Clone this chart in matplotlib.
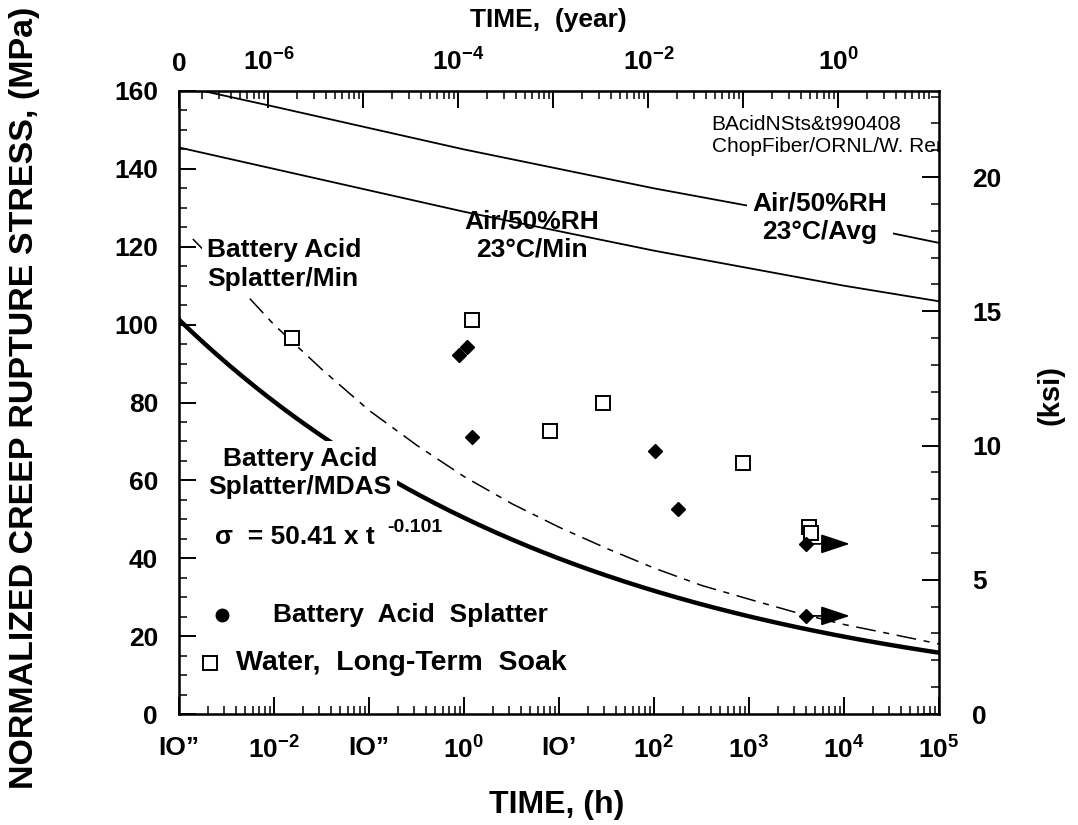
import numpy as np
import matplotlib.pyplot as plt
from matplotlib.ticker import MultipleLocator, LogLocator, NullFormatter, FixedLocator

plt.rcParams['font.family'] = ['Liberation Sans', 'DejaVu Sans']
plt.rcParams['font.weight'] = 'bold'
plt.rcParams['mathtext.fontset'] = 'custom'
plt.rcParams['mathtext.rm'] = 'Liberation Sans:bold'
plt.rcParams['mathtext.bf'] = 'Liberation Sans:bold'
plt.rcParams['mathtext.it'] = 'Liberation Sans:bold'
plt.rcParams['mathtext.default'] = 'rm'

# creep rupture curves: time to rupture (h) vs normalized stress (MPa)
air_avg_h = [1.8e-3, 1e-2, 1e-1, 1, 10, 1e2, 1e3, 1e4, 1e5]
air_avg_mpa = [160, 156, 150.5, 145, 140, 135, 130.5, 126, 121]
air_min_h = [1e-3, 1e-2, 1e-1, 1, 10, 1e2, 1e3, 1e4, 1e5]
air_min_mpa = [145.5, 140, 134.5, 129, 124, 119, 114.5, 110, 106]
acid_min_h = [1.4e-3, 3.2e-3, 1e-2, 3.2e-2, 1e-1, 0.32, 1, 3.2, 10, 32,
              1e2, 320, 1e3, 3200, 1e4, 32000, 1e5]
acid_min_mpa = [122, 113, 100, 88.5, 78, 69, 61, 54, 48, 42.5,
                37.5, 33, 29.5, 26, 23, 20.5, 18]

# MDAS fit, sigma = 50.41 * t^-0.101
mdas_coef = 50.41
mdas_exp = -0.101

# test results
acid_h = [0.885, 1.08, 1.21, 102, 178, 3980, 3980]
acid_mpa = [92.2, 94.3, 71.1, 67.5, 52.6, 43.7, 25.2]
acid_runout = [False, False, False, False, False, True, True]

water_h = [0.0155, 1.21, 8.04, 29.0, 871, 4270, 4470]
water_mpa = [96.6, 101.2, 72.7, 79.9, 64.5, 48.0, 46.5]

xtick_h = [1e-3, 1e-2, 1e-1, 1, 10, 1e2, 1e3, 1e4, 1e5]
xtick_labels = ['IO\u201d', '$10^{-2}$', 'IO\u201d', '$10^{0}$', 'IO\u2019',
                '$10^{2}$', '$10^{3}$', '$10^{4}$', '$10^{5}$']
ytick_yr = [1e-3 / 8760, 1e-6, 1e-5, 1e-4, 1e-3, 1e-2, 1e-1, 1]
ytick_yr_labels = ['0', '$10^{-6}$', '', '$10^{-4}$', '', '$10^{-2}$', '', '$10^{0}$']

MPA_PER_KSI = 6.895
HOURS_PER_YEAR = 8760

fig = plt.figure(figsize=(10.78, 8.25), dpi=100)
ax = fig.add_axes([0.166, 0.1345, 0.705, 0.7552])
ax.set_xscale('log')
ax.set_xlim(1e-3, 1e5)
ax.set_ylim(0, 160)

t = np.logspace(-3, 5, 300)
ax.plot(air_avg_h, air_avg_mpa, color='black', lw=1.3, zorder=2)
ax.plot(air_min_h, air_min_mpa, color='black', lw=1.3, zorder=2)
ax.plot(acid_min_h, acid_min_mpa, color='black', lw=1.1,
        linestyle=(0, (13, 5, 4, 5)), zorder=2)
ax.plot(t, mdas_coef * t ** mdas_exp, color='black', lw=3.2, zorder=2)

ax.plot(water_h, water_mpa, linestyle='none', marker='s', ms=10,
        mfc='white', mec='black', mew=1.4, zorder=4)
ax.plot(acid_h, acid_mpa, linestyle='none', marker='D', ms=7.5,
        mfc='black', mec='black', zorder=5)
for th, s, ro in zip(acid_h, acid_mpa, acid_runout):
    if ro:
        ax.annotate('', xy=(th * 2.9, s), xytext=(th, s),
                    arrowprops=dict(arrowstyle='-|>,head_length=1.8,head_width=0.6',
                                    color='black', lw=1.3, shrinkA=0, shrinkB=0,
                                    mutation_scale=10),
                    zorder=6)

# axis ticks
ax.set_xticks(xtick_h)
ax.set_xticklabels(xtick_labels)
ax.xaxis.set_minor_locator(LogLocator(base=10, subs=np.arange(2, 10), numticks=50))
ax.xaxis.set_minor_formatter(NullFormatter())
ax.yaxis.set_major_locator(MultipleLocator(20))
ax.yaxis.set_minor_locator(MultipleLocator(5))
ax.tick_params(which='both', direction='in')
ax.tick_params(which='major', length=12, width=1.4)
ax.tick_params(which='minor', length=6, width=1.1)
ax.tick_params(axis='y', pad=15, labelsize=19)
ax.tick_params(axis='x', pad=16, labelsize=19)
for sp in ax.spines.values():
    sp.set_linewidth(1.8)

axr = ax.twinx()
axr.set_ylim(0, 160 / MPA_PER_KSI)
axr.yaxis.set_major_locator(MultipleLocator(5))
axr.yaxis.set_minor_locator(MultipleLocator(1))
axr.tick_params(which='both', direction='in', labelsize=19, pad=24)
axr.tick_params(which='major', length=12, width=1.4)
axr.tick_params(which='minor', length=6, width=1.1)

secax = ax.secondary_xaxis('top', functions=(lambda h: h / HOURS_PER_YEAR,
                                             lambda y: y * HOURS_PER_YEAR))
secax.xaxis.set_major_locator(FixedLocator(ytick_yr))
secax.set_xticklabels(ytick_yr_labels)
yr_minor = [m * 10.0 ** k for k in range(-7, 1) for m in range(2, 10)]
secax.xaxis.set_minor_locator(FixedLocator(yr_minor))
secax.xaxis.set_minor_formatter(NullFormatter())
secax.tick_params(which='both', direction='in', labelsize=19, pad=11)
secax.tick_params(which='major', length=12, width=1.4)
secax.tick_params(which='minor', length=6, width=1.1)

# axis titles
fig.text(25 / 1078, 1 - 398 / 825, 'NORMALIZED CREEP RUPTURE STRESS, (MPa)',
         rotation=90, ha='center', va='center', fontsize=24.5)
fig.text(557 / 1078, 1 - 805 / 825, 'TIME, (h)', ha='center', va='center', fontsize=23)
fig.text(548 / 1078, 1 - 20 / 825, 'TIME,  (year)', ha='center', va='center', fontsize=19)
fig.text(1050 / 1078, 1 - 395 / 825, '(ksi)', rotation=90, ha='center', va='center',
         fontsize=21)

# curve annotations
box = dict(facecolor='white', edgecolor='none', pad=4)
ax.text(0.843, 0.796, 'Air/50%RH\n23\u00b0C/Avg', transform=ax.transAxes,
        ha='center', va='center', fontsize=19, linespacing=1.25, bbox=box, zorder=3)
ax.text(0.464, 0.768, 'Air/50%RH\n23\u00b0C/Min', transform=ax.transAxes,
        ha='center', va='center', fontsize=19, linespacing=1.25, zorder=3)
ax.text(0.037, 0.722, 'Battery Acid\nSplatter/Min', transform=ax.transAxes,
        ha='left', va='center', fontsize=19, linespacing=1.25, bbox=box, zorder=3)
ax.text(0.159, 0.387, 'Battery Acid\nSplatter/MDAS', transform=ax.transAxes,
        ha='center', va='center', fontsize=19, linespacing=1.25, bbox=box, zorder=3)
ax.text(0.048, 0.284, '\u03c3  = 50.41 x t', transform=ax.transAxes,
        ha='left', va='center', fontsize=19, zorder=3)
ax.text(0.274, 0.300, '-0.101', transform=ax.transAxes,
        ha='left', va='center', fontsize=14, zorder=3)
ax.text(0.701, 0.929, 'BAcidNSts&t990408\nChopFiber/ORNL/W. Ren',
        transform=ax.transAxes, ha='left', va='center', fontsize=15,
        fontweight='normal', linespacing=1.2, clip_on=True, zorder=3)

# key
ax.plot([0.056], [0.159], marker='o', ms=9, color='black',
        transform=ax.transAxes, clip_on=False)
ax.text(0.124, 0.159, 'Battery  Acid  Splatter', transform=ax.transAxes,
        ha='left', va='center', fontsize=19)
ax.plot([0.041], [0.082], marker='s', ms=10, mfc='white', mec='black', mew=1.4,
        transform=ax.transAxes, clip_on=False)
ax.text(0.075, 0.082, 'Water,  Long-Term  Soak', transform=ax.transAxes,
        ha='left', va='center', fontsize=20.5)

fig.savefig('out.png', dpi=100)
